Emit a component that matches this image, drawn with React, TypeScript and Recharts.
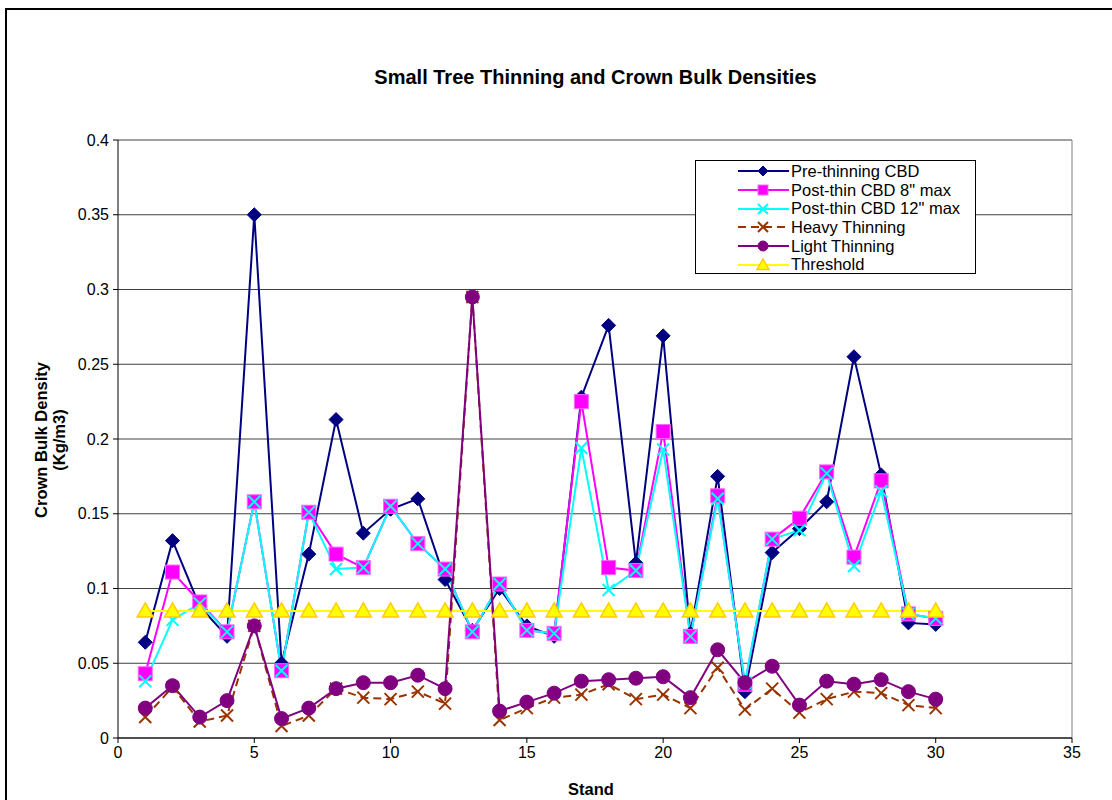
import { LineChart, Line, XAxis, YAxis, CartesianGrid, ReferenceLine } from 'recharts'

const stands = [1, 2, 3, 4, 5, 6, 7, 8, 9, 10, 11, 12, 13, 14, 15, 16, 17, 18, 19, 20, 21, 22, 23, 24, 25, 26, 27, 28, 29, 30]

const preThinning = [
  0.064, 0.132, 0.088, 0.068, 0.35, 0.05, 0.123, 0.213, 0.137, 0.153, 0.16, 0.106, 0.072, 0.1, 0.075,
  0.068, 0.228, 0.276, 0.117, 0.269, 0.07, 0.175, 0.031, 0.124, 0.14, 0.158, 0.255, 0.176, 0.077, 0.076,
]
const post8 = [
  0.043, 0.111, 0.091, 0.071, 0.158, 0.045, 0.151, 0.123, 0.114, 0.155, 0.13, 0.113, 0.071, 0.103, 0.072,
  0.07, 0.225, 0.114, 0.112, 0.205, 0.068, 0.162, 0.036, 0.133, 0.147, 0.178, 0.121, 0.172, 0.083, 0.08,
]
const post12 = [
  0.038, 0.079, 0.09, 0.071, 0.158, 0.045, 0.151, 0.113, 0.114, 0.155, 0.13, 0.113, 0.071, 0.103, 0.072,
  0.07, 0.194, 0.099, 0.112, 0.193, 0.068, 0.16, 0.037, 0.133, 0.139, 0.177, 0.115, 0.165, 0.083, 0.08,
]
const heavy = [
  0.014, 0.034, 0.011, 0.015, 0.075, 0.008, 0.015, 0.033, 0.027, 0.026, 0.031, 0.023, 0.295, 0.012, 0.02,
  0.027, 0.029, 0.036, 0.026, 0.029, 0.02, 0.047, 0.019, 0.033, 0.017, 0.026, 0.031, 0.03, 0.022, 0.02,
]
const light = [
  0.02, 0.035, 0.014, 0.025, 0.075, 0.013, 0.02, 0.033, 0.037, 0.037, 0.042, 0.033, 0.295, 0.018, 0.024,
  0.03, 0.038, 0.039, 0.04, 0.041, 0.027, 0.059, 0.037, 0.048, 0.022, 0.038, 0.036, 0.039, 0.031, 0.026,
]
const threshold = stands.map(() => 0.085)

const yTicks = [0, 0.05, 0.1, 0.15, 0.2, 0.25, 0.3, 0.35, 0.4]
const xTicks = [0, 5, 10, 15, 20, 25, 30, 35]

const FONT = '"Liberation Sans", Arial, sans-serif'

const NAVY = '#000080'
const MAGENTA = '#FF00FF'
const CYAN = '#00FFFF'
const BROWN = '#993300'
const PURPLE = '#800080'
const YELLOW = '#FFFF00'

// marker shapes (Excel style)
function Diamond({ cx, cy, s = 7 }: { cx: number; cy: number; s?: number }) {
  return <path d={`M${cx},${cy - s}L${cx + s},${cy}L${cx},${cy + s}L${cx - s},${cy}Z`} fill={NAVY} stroke={NAVY} />
}
function Square({ cx, cy, s = 7 }: { cx: number; cy: number; s?: number }) {
  return <rect x={cx - s} y={cy - s} width={s * 2} height={s * 2} fill={MAGENTA} stroke="#FF66FF" strokeWidth={1} />
}
function Cross({ cx, cy, s = 6, color }: { cx: number; cy: number; s?: number; color: string }) {
  return (
    <path
      d={`M${cx - s},${cy - s}L${cx + s},${cy + s}M${cx - s},${cy + s}L${cx + s},${cy - s}`}
      stroke={color}
      strokeWidth={2}
      fill="none"
    />
  )
}
function Circle({ cx, cy, r = 7 }: { cx: number; cy: number; r?: number }) {
  return <circle cx={cx} cy={cy} r={r} fill={PURPLE} stroke={PURPLE} />
}
function Triangle({ cx, cy, s = 8 }: { cx: number; cy: number; s?: number }) {
  return (
    <path
      d={`M${cx},${cy - s}L${cx + s},${cy + s * 0.75}L${cx - s},${cy + s * 0.75}Z`}
      fill={YELLOW}
      stroke="#FFCC00"
      strokeWidth={1.5}
    />
  )
}

const dotFor = (kind: string) => (p: any) => {
  const { cx, cy, index } = p
  const k = `${kind}-${index}`
  if (cx == null || cy == null) return <g key={k} />
  switch (kind) {
    case 'pre':
      return <Diamond key={k} cx={cx} cy={cy} />
    case 'p8':
      return <Square key={k} cx={cx} cy={cy} />
    case 'p12':
      return <Cross key={k} cx={cx} cy={cy} color={CYAN} />
    case 'heavy':
      return <Cross key={k} cx={cx} cy={cy} color={BROWN} />
    case 'light':
      return <Circle key={k} cx={cx} cy={cy} />
    default:
      return <Triangle key={k} cx={cx} cy={cy} />
  }
}

const legendItems = [
  { name: 'Pre-thinning CBD', kind: 'pre', color: NAVY, dash: undefined },
  { name: 'Post-thin CBD 8" max', kind: 'p8', color: MAGENTA, dash: undefined },
  { name: 'Post-thin CBD 12" max', kind: 'p12', color: CYAN, dash: undefined },
  { name: 'Heavy Thinning', kind: 'heavy', color: BROWN, dash: '8 5' },
  { name: 'Light Thinning', kind: 'light', color: PURPLE, dash: undefined },
  { name: 'Threshold', kind: 'thr', color: YELLOW, dash: undefined },
]

function LegendBox() {
  return (
    <div
      style={{
        position: 'absolute',
        left: 695,
        top: 160,
        width: 281,
        height: 114,
        border: '1px solid #000',
        background: '#fff',
        boxSizing: 'border-box',
        paddingTop: 1,
        fontFamily: FONT,
        fontSize: 16.5,
        color: '#000',
      }}
    >
      {legendItems.map((it) => (
        <div key={it.name} style={{ height: 18.7, display: 'flex', alignItems: 'center' }}>
          <svg width={95} height={18} style={{ flex: 'none' }}>
            <line x1={42} x2={93} y1={9} y2={9} stroke={it.color} strokeWidth={2} strokeDasharray={it.dash} />
            {it.kind === 'pre' && <Diamond cx={67} cy={9} s={5} />}
            {it.kind === 'p8' && <Square cx={67} cy={9} s={5} />}
            {it.kind === 'p12' && <Cross cx={67} cy={9} s={5} color={CYAN} />}
            {it.kind === 'heavy' && <Cross cx={67} cy={9} s={5} color={BROWN} />}
            {it.kind === 'light' && <Circle cx={67} cy={9} r={5} />}
            {it.kind === 'thr' && <Triangle cx={67} cy={9} s={6} />}
          </svg>
          <span style={{ whiteSpace: 'nowrap' }}>{it.name}</span>
        </div>
      ))}
    </div>
  )
}

const data = stands.map((s, i) => ({
  stand: s,
  pre: preThinning[i],
  p8: post8[i],
  p12: post12[i],
  heavy: heavy[i],
  light: light[i],
  thr: threshold[i],
}))

export default function App() {
  return (
    <div style={{ position: 'absolute', left: 0, top: 0, width: 1112, height: 800, background: '#fff', overflow: 'hidden' }}>
      <div
        style={{
          position: 'absolute',
          left: 5,
          top: 8,
          width: 1120,
          height: 820,
          border: '2px solid #000',
        }}
      />
      <div
        style={{
          position: 'absolute',
          left: 0,
          width: 1191,
          top: 66,
          textAlign: 'center',
          fontFamily: FONT,
          fontWeight: 'bold',
          fontSize: 20,
        }}
      >
        Small Tree Thinning and Crown Bulk Densities
      </div>
      <div
        style={{
          position: 'absolute',
          left: 50,
          top: 440,
          transform: 'translate(-50%, -50%) rotate(-90deg)',
          fontFamily: FONT,
          fontWeight: 'bold',
          fontSize: 16.5,
          textAlign: 'center',
          lineHeight: '18px',
          whiteSpace: 'nowrap',
        }}
      >
        Crown Bulk Density
        <br />
        (Kg/m3)
      </div>
      <div
        style={{
          position: 'absolute',
          left: 591,
          top: 780,
          transform: 'translateX(-50%)',
          fontFamily: FONT,
          fontWeight: 'bold',
          fontSize: 16.5,
        }}
      >
        Stand
      </div>
      <div style={{ position: 'absolute', left: 0, top: 0 }}>
        <LineChart width={1112} height={800} data={data} margin={{ top: 140, right: 40, bottom: 32, left: 58 }}>
          <CartesianGrid vertical={false} stroke="#404040" />
          <XAxis
            dataKey="stand"
            type="number"
            domain={[0, 35]}
            ticks={xTicks}
            height={30}
            tickSize={5}
            tickLine={{ stroke: '#000' }}
            axisLine={{ stroke: '#000' }}
            tick={{ fontSize: 16, fontFamily: FONT, fill: '#000' }}
            tickMargin={4}
          />
          <YAxis
            type="number"
            domain={[0, 0.4]}
            ticks={yTicks}
            width={60}
            tickSize={5}
            tickLine={{ stroke: '#000' }}
            axisLine={{ stroke: '#000' }}
            tick={{ fontSize: 16, fontFamily: FONT, fill: '#000' }}
            tickMargin={4}
            interval={0}
          />
          <ReferenceLine x={35} stroke="#808080" />
          <Line
            dataKey="pre"
            name="Pre-thinning CBD"
            stroke={NAVY}
            strokeWidth={2}
            dot={dotFor('pre')}
            isAnimationActive={false}
          />
          <Line dataKey="p8" name='Post-thin CBD 8" max' stroke={MAGENTA} strokeWidth={2} dot={dotFor('p8')} isAnimationActive={false} />
          <Line dataKey="p12" name='Post-thin CBD 12" max' stroke={CYAN} strokeWidth={2} dot={dotFor('p12')} isAnimationActive={false} />
          <Line dataKey="thr" name="Threshold" stroke={YELLOW} strokeWidth={2} dot={dotFor('thr')} isAnimationActive={false} />
          <Line
            dataKey="heavy"
            name="Heavy Thinning"
            stroke={BROWN}
            strokeWidth={2}
            strokeDasharray="8 5"
            dot={dotFor('heavy')}
            isAnimationActive={false}
          />
          <Line dataKey="light" name="Light Thinning" stroke={PURPLE} strokeWidth={2} dot={dotFor('light')} isAnimationActive={false} />
        </LineChart>
      </div>
      <LegendBox />
    </div>
  )
}
